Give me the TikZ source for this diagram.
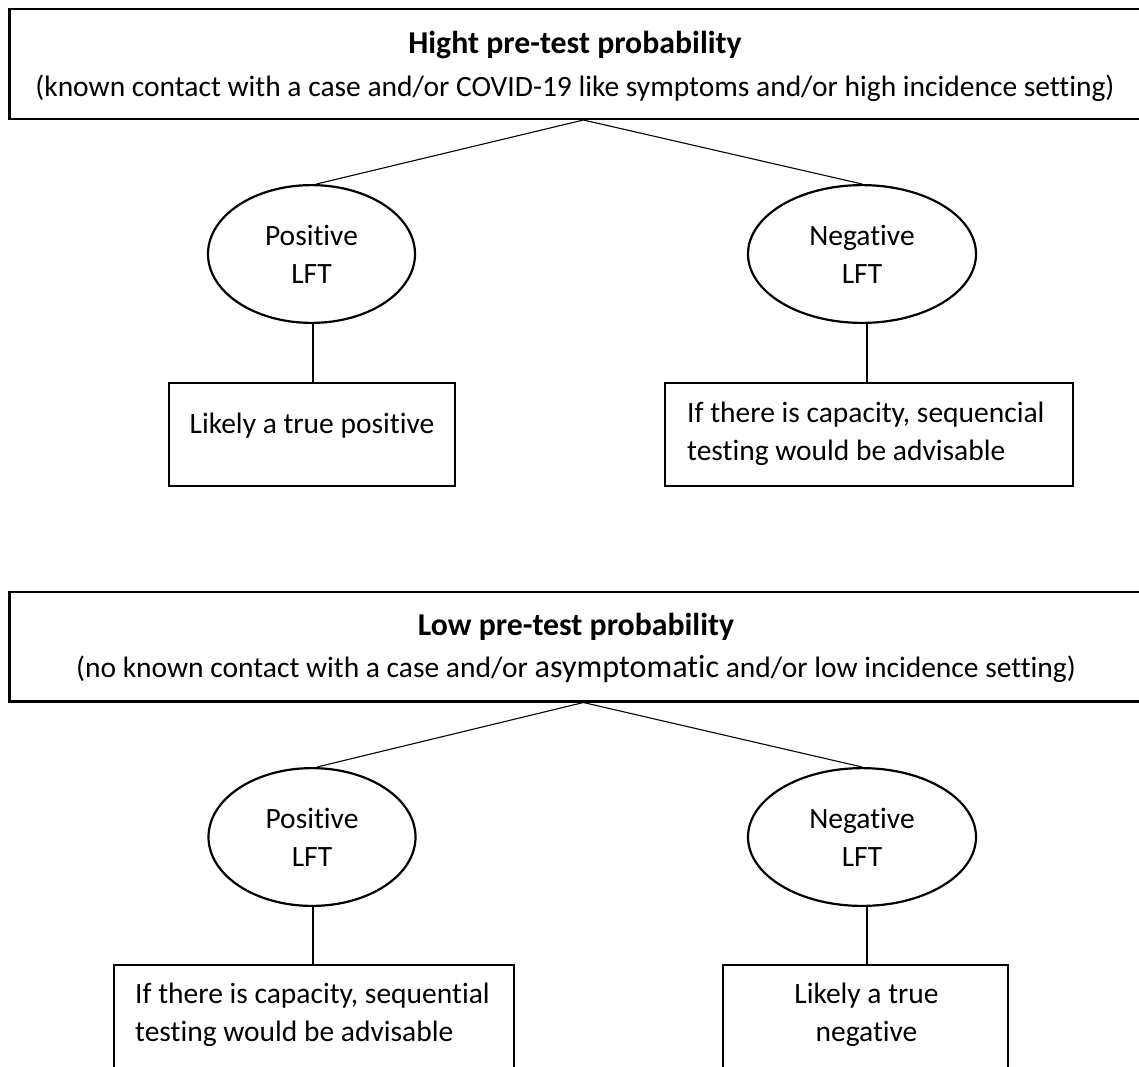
\documentclass[tikz,border=0pt]{standalone}
\usepackage{fontspec}
\setmainfont{Carlito}[Ligatures={TeX,NoCommon}]
\usetikzlibrary{shapes.geometric}
\begin{document}
\begin{tikzpicture}[x=1pt,y=-1pt,
  txt/.style={inner sep=0, font=\fontsize{29.5}{38}\selectfont},
  ttl/.style={inner sep=0, font=\fontsize{31.8}{38}\selectfont\bfseries},
  bigbox/.style={draw, line width=2.4pt, inner sep=0, minimum width=1148, minimum height=109.6},
  smallbox/.style={draw, line width=2.4pt, inner sep=0, minimum height=102.6},
  oval/.style={draw, ellipse, line width=2.2pt, inner sep=0, minimum height=137.8, align=center, font=\fontsize{29.5}{38}\selectfont},
  conn/.style={draw, line width=1.1pt}]
\useasboundingbox (0,0) rectangle (1139,1066);
\fill[white] (0,0) rectangle (1139,1066);

% ---- High pre-test probability ----
\node[bigbox] (hbox) at (583.4,64) {};
\node[ttl, anchor=base] (htitle) at (575,53) {Hight pre-test probability};
\node[txt, anchor=base] (hsub) at (575,96) {(known contact with a case and/or COVID-19 like symptoms and/or high incidence setting)};

\node[oval, minimum width=207] (hpos) at (311.5,254) {Positive\\LFT};
\node[oval, minimum width=228] (hneg) at (862,254) {Negative\\LFT};

\node[smallbox, minimum width=285.6] (hposbox) at (312,434.5) {};
\node[txt, anchor=base] (hpost) at (312,433) {Likely a true positive};

\node[smallbox, minimum width=407.6] (hnegbox) at (869,434.5) {};
\node[txt, anchor=base west] (hnegt1) at (687,422) {If there is capacity, sequencial};
\node[txt, anchor=base west] (hnegt2) at (687,460) {testing would be advisable};

\draw[conn] (hbox.south) -- ([xshift=5]hpos.north);
\draw[conn] (hbox.south) -- (hneg.north);
\draw[conn] ([xshift=1.5]hpos.south) -- ([xshift=1.5]hpos.south |- hposbox.north);
\draw[conn] ([xshift=5]hneg.south) -- ([xshift=5]hneg.south |- hnegbox.north);

% ---- Low pre-test probability ----
\node[bigbox] (lbox) at (583.4,646.5) {};
\node[ttl, anchor=base] (ltitle) at (576,635) {Low pre-test probability};
\node[txt, anchor=base] (lsub) at (576,677) {(no known contact with a case and/or {\fontsize{32.2}{38}\selectfont asymptomatic} and/or low incidence setting)};

\node[oval, minimum width=207] (lpos) at (312,837) {Positive\\LFT};
\node[oval, minimum width=228] (lneg) at (862,837) {Negative\\LFT};

\node[smallbox, minimum width=399.6] (lposbox) at (314,1016.5) {};
\node[txt, anchor=base west] (lpost1) at (135,1003) {If there is capacity, sequential};
\node[txt, anchor=base west] (lpost2) at (135,1041.5) {testing would be advisable};

\node[smallbox, minimum width=284.6] (lnegbox) at (865.5,1016.5) {};
\node[txt, anchor=base] (lnegt1) at (866.5,1003) {Likely a true};
\node[txt, anchor=base] (lnegt2) at (866.5,1041.5) {negative};

\draw[conn] (lbox.south) -- ([xshift=5]lpos.north);
\draw[conn] (lbox.south) -- (lneg.north);
\draw[conn] ([xshift=1]lpos.south) -- ([xshift=1]lpos.south |- lposbox.north);
\draw[conn] ([xshift=5]lneg.south) -- ([xshift=5]lneg.south |- lnegbox.north);
\end{tikzpicture}
\end{document}
